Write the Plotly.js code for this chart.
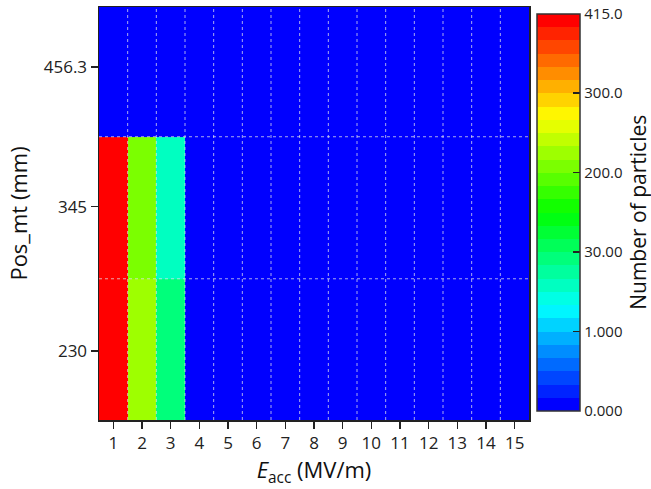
<!DOCTYPE html>
<html>
<head>
<meta charset="utf-8">
<script src="https://cdn.plot.ly/plotly-3.0.1.min.js"></script>
<style>html,body{margin:0;padding:0;background:#fff;}#chart{width:651px;height:489px;}</style>
</head>
<body>
<div id="chart"></div>
<script>
// ---- data ----
var eacc = [1, 2, 3, 4, 5, 6, 7, 8, 9, 10, 11, 12, 13, 14, 15];
var posMt = [230, 345, 456.3];
var posLabels = ['230', '345', '456.3'];
var counts230 = [415, 222, 27, 0, 0, 0, 0, 0, 0, 0, 0, 0, 0, 0, 0];
var counts345 = [410, 205, 17, 0, 0, 0, 0, 0, 0, 0, 0, 0, 0, 0, 0];
var counts456 = [0, 0, 0, 0, 0, 0, 0, 0, 0, 0, 0, 0, 0, 0, 0];
var levels = [0, 1, 30, 200, 300, 415];
var levelLabels = ['0.000', '1.000', '30.00', '200.0', '300.0', '415.0'];
var bandsPerSegment = 6;

// ---- level mapping (Origin-style nonlinear level colour bar) ----
function toIndex(v) {
  for (var k = 0; k < levels.length - 1; k++) {
    if (v <= levels[k + 1]) {
      return k * bandsPerSegment + bandsPerSegment * (v - levels[k]) / (levels[k + 1] - levels[k]);
    }
  }
  return (levels.length - 1) * bandsPerSegment;
}
var nBands = (levels.length - 1) * bandsPerSegment;
var anchors = [[0,0,255],[0,255,255],[0,255,0],[255,255,0],[255,0,0]];
function rainbow(t) {
  var s = t * (anchors.length - 1);
  var i = Math.min(Math.floor(s), anchors.length - 2);
  var f = s - i;
  var a = anchors[i], b = anchors[i + 1];
  return 'rgb(' + [0,1,2].map(function (c) { return Math.round(a[c] + (b[c] - a[c]) * f); }).join(',') + ')';
}
var colorscale = [];
for (var i = 0; i < nBands; i++) {
  var col = rainbow(i / (nBands - 1));
  colorscale.push([i / nBands, col]);
  colorscale.push([(i + 1) / nBands, col]);
}
var zRows = [counts230, counts345, counts456].map(function (r) { return r.map(toIndex); });
var textRows = [counts230, counts345, counts456];
var tickIdx = levels.map(function (v, k) { return k * bandsPerSegment; });

var font = "'Open Sans', 'Noto Sans', sans-serif";

// grid lines at cell boundaries, drawn above the heatmap
var shapes = [];
for (var j = 0; j < eacc.length - 1; j++) {
  var xm = (eacc[j] + eacc[j + 1]) / 2;
  shapes.push({type: 'line', xref: 'x', yref: 'paper', x0: xm, x1: xm, y0: 0, y1: 1, layer: 'above',
    line: {color: 'rgba(225,225,235,0.75)', width: 1, dash: 'dot'}});
}
for (var j = 0; j < posMt.length - 1; j++) {
  var ym = (posMt[j] + posMt[j + 1]) / 2;
  shapes.push({type: 'line', xref: 'paper', yref: 'y', x0: 0, x1: 1, y0: ym, y1: ym, layer: 'above',
    line: {color: 'rgba(225,225,235,0.75)', width: 1, dash: 'dot'}});
}

var trace = {
  type: 'heatmap',
  x: eacc,
  y: posMt,
  z: zRows,
  text: textRows,
  hovertemplate: 'E=%{x}<br>Pos=%{y}<br>N=%{text}<extra></extra>',
  zmin: 0,
  zmax: nBands,
  colorscale: colorscale,
  xgap: 0, ygap: 0,
  colorbar: {
    x: 1.0186, xanchor: 'left', xpad: 0,
    y: 0.503, yanchor: 'middle', ypad: 0,
    len: 0.962, lenmode: 'fraction',
    thickness: 43, thicknessmode: 'pixels',
    outlinewidth: 1.5, outlinecolor: '#333',
    tickvals: tickIdx,
    ticktext: levelLabels,
    ticks: 'inside', ticklen: 7, tickwidth: 1.5, tickcolor: '#222',
    tickfont: {family: font, size: 15, color: '#222'},
    title: {text: 'Number of particles', side: 'right', font: {family: font, size: 21, color: '#111'}}
  }
};

var layout = {
  width: 651, height: 489,
  margin: {l: 99, r: 122, t: 7, b: 69, autoexpand: false},
  paper_bgcolor: '#fff', plot_bgcolor: '#fff',
  font: {family: font, color: '#222'},
  xaxis: {
    range: [0.5, 15.5],
    tickvals: eacc,
    ticktext: eacc.map(String),
    ticks: 'outside', ticklen: 7, tickwidth: 1.5, tickcolor: '#222',
    showline: true, linecolor: '#222', linewidth: 1.5, mirror: true,
    showgrid: false, zeroline: false, automargin: false,
    tickfont: {family: font, size: 17, color: '#222'},
    title: {text: '<i>E</i><sub>acc</sub> (MV/m)', font: {family: font, size: 22, color: '#111'}, standoff: 4}
  },
  yaxis: {
    range: [175, 504],
    tickvals: posMt,
    ticktext: posLabels,
    ticks: 'outside', ticklen: 7, tickwidth: 1.5, tickcolor: '#222',
    showline: true, linecolor: '#222', linewidth: 1.5, mirror: true,
    showgrid: false, zeroline: false, automargin: false,
    tickfont: {family: font, size: 17, color: '#222'},
    title: {text: 'Pos_mt (mm)', font: {family: font, size: 22, color: '#111'}, standoff: 10}
  },
  shapes: shapes,
  showlegend: false
};

Plotly.newPlot('chart', [trace], layout, {displayModeBar: false, staticPlot: true});
</script>
</body>
</html>
